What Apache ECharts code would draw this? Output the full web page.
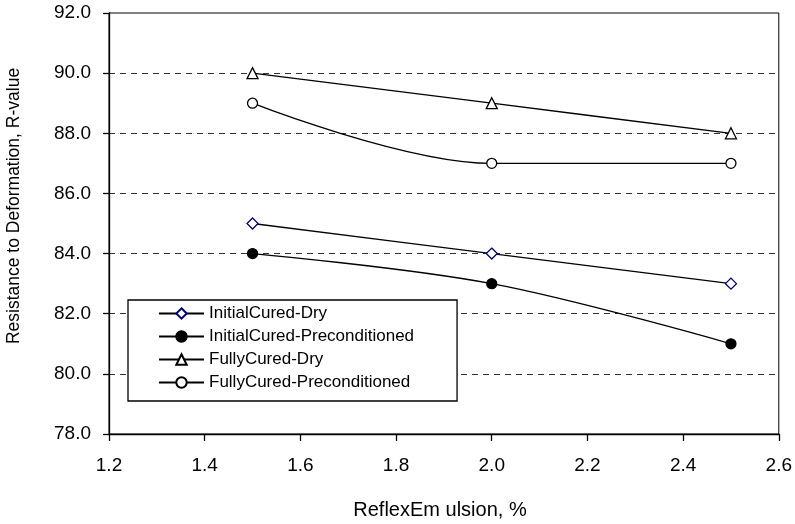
<!DOCTYPE html>
<html>
<head>
<meta charset="utf-8">
<script src="https://cdn.jsdelivr.net/npm/echarts@6/dist/echarts.min.js"></script>
<style>
html,body{margin:0;padding:0;background:#fff;}
#chart{width:795px;height:524px;}
</style>
</head>
<body>
<div id="chart"></div>
<script>
var xValues = [1.5, 2.0, 2.5];
var initialCuredDry = [85, 84, 83];
var initialCuredPre = [84, 83, 81];
var fullyCuredDry = [90, 89, 88];
var fullyCuredPre = [89, 87, 87];
var seriesNames = ['InitialCured-Dry', 'InitialCured-Preconditioned', 'FullyCured-Dry', 'FullyCured-Preconditioned'];
var xTitle = 'ReflexEm ulsion, %';
var yTitle = 'Resistance to Deformation, R-value';

function pairs(vals) { return xValues.map(function (x, i) { return [x, vals[i]]; }); }

var font = 'Liberation Sans, Arial, sans-serif';
var chart = echarts.init(document.getElementById('chart'), null, {renderer: 'canvas'});

function mk(name, vals, symbol, fill, stroke, size) {
  return {
    name: name, type: 'line', data: pairs(vals),
    smooth: 0.35,
    symbol: symbol, symbolSize: size,
    showAllSymbol: true,
    lineStyle: {color: '#000', width: 1.3},
    itemStyle: {color: fill, borderColor: stroke, borderWidth: 1.3},
    emphasis: {disabled: true},
    z: 3
  };
}

chart.setOption({
  animation: false,
  backgroundColor: '#fff',
  grid: {left: 109, right: 13, top: 13, bottom: 90, show: true, borderColor: '#000', borderWidth: 1, backgroundColor: 'transparent'},
  xAxis: {
    type: 'value', min: 1.2, max: 2.6, interval: 0.2,
    axisLine: {show: true, lineStyle: {color: '#000', width: 1.3}},
    axisTick: {show: true, inside: false, length: 7, lineStyle: {color: '#000', width: 1.3}},
    axisLabel: {color: '#000', fontFamily: font, fontSize: 19, margin: 22,
      formatter: function (v) { return v.toFixed(1); }},
    splitLine: {show: false}
  },
  yAxis: {
    type: 'value', min: 78, max: 92, interval: 2,
    axisLine: {show: true, lineStyle: {color: '#000', width: 1.3}},
    axisTick: {show: true, inside: false, length: 6, lineStyle: {color: '#000', width: 1.3}},
    axisLabel: {color: '#000', fontFamily: font, fontSize: 19, margin: 18,
      formatter: function (v) { return v.toFixed(1); }},
    splitLine: {show: true, showMinLine: false, showMaxLine: false,
      lineStyle: {color: '#333', width: 1, type: [6, 5]}}
  },
  legend: {
    orient: 'vertical', left: 128, top: 300,
    padding: [5, 43, 10, 30],
    itemGap: 6, itemWidth: 45, itemHeight: 13,
    backgroundColor: '#fff', borderColor: '#000', borderWidth: 1.3,
    textStyle: {color: '#000', fontFamily: font, fontSize: 17},
    data: seriesNames,
    z: 10
  },
  graphic: [
    {type: 'text', x: 14, y: 206, rotation: Math.PI / 2,
      style: {text: yTitle, fill: '#000', font: '17.5px ' + font, align: 'center', verticalAlign: 'middle'}},
    {type: 'text', x: 440, y: 510,
      style: {text: xTitle, fill: '#000', font: '20px ' + font, align: 'center', verticalAlign: 'middle'}}
  ],
  series: [
    mk(seriesNames[0], initialCuredDry, 'diamond', '#fff', '#000080', 11),
    mk(seriesNames[1], initialCuredPre, 'circle', '#000', '#000', 10),
    mk(seriesNames[2], fullyCuredDry, 'triangle', '#fff', '#000', 11),
    mk(seriesNames[3], fullyCuredPre, 'circle', '#fff', '#000', 10)
  ]
});
</script>
</body>
</html>
